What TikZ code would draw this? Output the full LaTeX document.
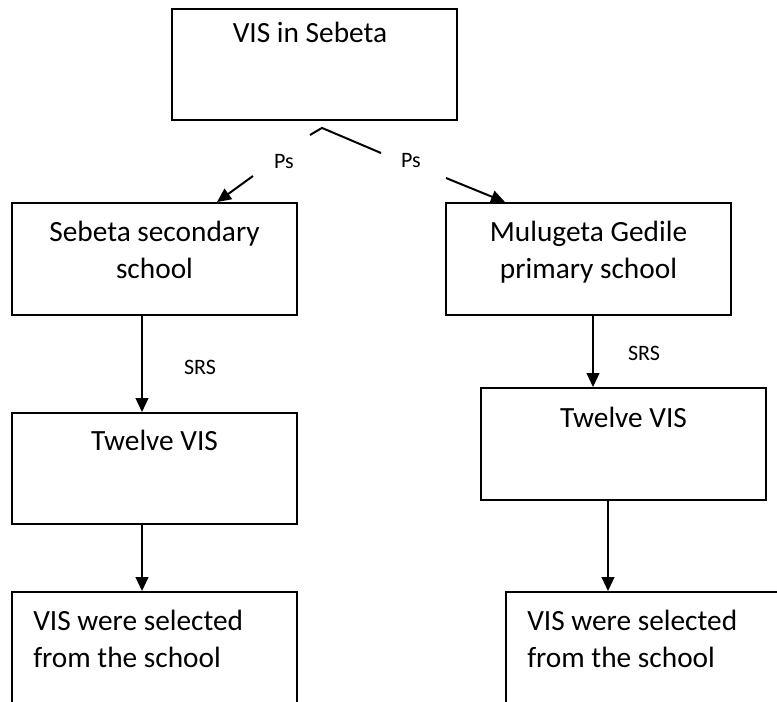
\documentclass[tikz,border=0pt]{standalone}
\usepackage{fontspec}
\setmainfont{Carlito}
\usetikzlibrary{arrows.meta,calc}
\begin{document}
\begin{tikzpicture}[x=0.75pt,y=-0.75pt,
  box/.style={draw=black,line width=1.4pt,rectangle,inner sep=0pt,minimum width=213.75pt},
  txt/.style={inner sep=0pt,font=\fontsize{22}{27.5}\selectfont},
  lbl/.style={inner sep=0pt,font=\fontsize{16.5}{18}\selectfont},
  arr/.style={line width=1.5pt,-{Triangle[length=10.5pt,width=9.5pt]}},
  ln/.style={line width=1.5pt}]
\useasboundingbox (0,0) rectangle (777,702);
% boxes
\node[box,minimum height=83.25pt] (top) at (314.5,64.5) {};
\node[box,minimum height=84pt] (L2) at (154.5,259) {};
\node[box,minimum height=84pt] (R2) at (588.5,259) {};
\node[box,minimum height=83.25pt] (L3) at (154.5,468.5) {};
\node[box,minimum height=84pt] (R3) at (623.5,444) {};
\node[box,minimum height=96pt] (L4) at (154.5,656) {};
\node[box,minimum height=96pt] (R4) at (648.5,656) {};
% texts
\node[txt,anchor=base] (topt) at (310,43) {VIS in Sebeta};
\node[txt,anchor=base] (L2a) at (154.5,242) {Sebeta secondary};
\node[txt,anchor=base] (L2b) at (154.5,278) {school};
\node[txt,anchor=base] (R2a) at (588.5,242) {Mulugeta Gedile};
\node[txt,anchor=base] (R2b) at (588.5,278) {primary school};
\node[txt,anchor=base] (L3t) at (154.5,450) {Twelve VIS};
\node[txt,anchor=base] (R3t) at (623.5,427) {Twelve VIS};
\node[txt,anchor=base west] (L4a) at (33,630) {VIS were selected};
\node[txt,anchor=base west] (L4b) at (33,667) {from the school};
\node[txt,anchor=base west] (R4a) at (527,630) {VIS were selected};
\node[txt,anchor=base west] (R4b) at (527,667) {from the school};
% labels
\node[lbl] (psl) at (284,162) {Ps};
\node[lbl] (psr) at (411,161) {Ps};
\node[lbl] (srsl) at (200,367) {SRS};
\node[lbl] (srsr) at (644,353) {SRS};
% top connector
\coordinate (apex) at ($(top.south)+(7.5,7)$);
\coordinate (stub) at (310,135);
\coordinate (rend) at (381,153);
\coordinate (lstart) at (253,176);
\coordinate (rstart) at (446,178);
\draw[ln] (stub) -- (apex) -- (rend);
\draw[arr] (lstart) -- ($(L2.north)+(62.5,0)$);
\draw[arr] (rstart) -- ($(R2.north)+(-83.5,0)$);
% vertical arrows
\draw[arr] ($(L2.south)+(-12.5,0)$) -- ($(L3.north)+(-12.5,0)$);
\draw[arr] ($(L3.south)+(-12.5,0)$) -- ($(L4.north)+(-12.5,0)$);
\draw[arr] ($(R2.south)+(4.5,0)$) -- ($(R3.north)+(-30.5,0)$);
\draw[arr] ($(R3.south)+(-15.5,0)$) -- ($(R4.north)+(-40.5,0)$);
\end{tikzpicture}
\end{document}
